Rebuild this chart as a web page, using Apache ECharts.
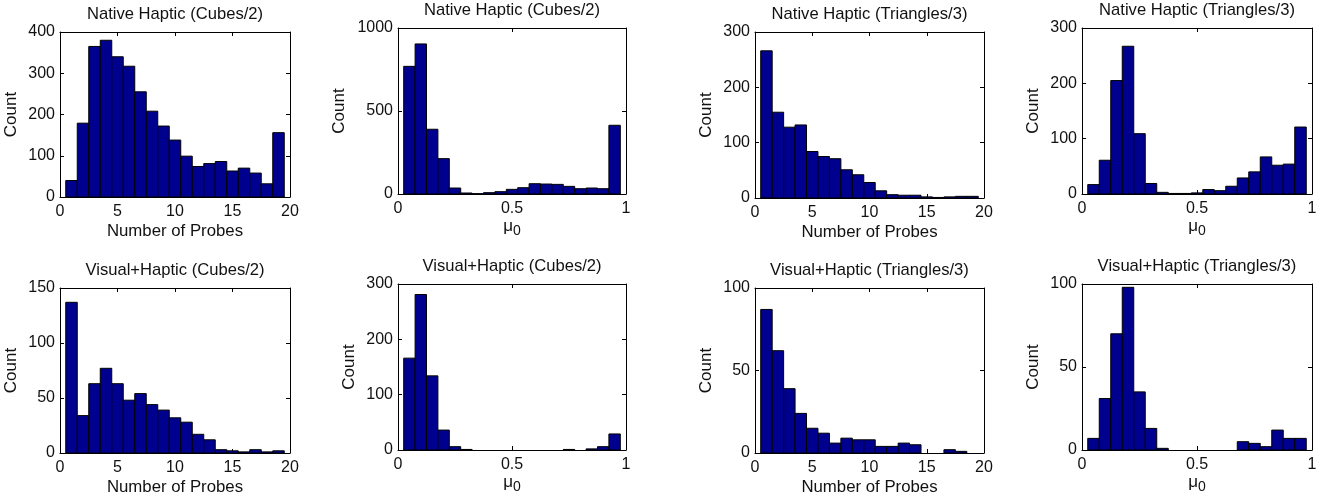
<!DOCTYPE html>
<html><head><meta charset="utf-8">
<script src="https://cdn.jsdelivr.net/npm/echarts@6/dist/echarts.min.js"></script>
<style>html,body{margin:0;padding:0;background:#fff}#c{width:1320px;height:499px}</style>
</head><body><div id="c"></div><script>
// ---- data ----
const probeBins = [1,2,3,4,5,6,7,8,9,10,11,12,13,14,15,16,17,18,19];
const muBins = [0.05,0.10,0.15,0.20,0.25,0.30,0.35,0.40,0.45,0.50,0.55,0.60,0.65,0.70,0.75,0.80,0.85,0.90,0.95];
const probeTicks = [0,5,10,15,20];
const muTicks = [0,0.5,1];

const nhCubesProbes = [40,179,365,380,340,317,255,208,172,138,99,74,81,86,63,70,58,32,156];
const nhCubesMu     = [769,904,390,213,36,6,2,8,14,28,38,62,60,58,46,32,36,32,414];
const nhTriProbes   = [266,155,128,132,84,75,71,51,42,28,13,6,5,5,2,1,2,3,3];
const nhTriMu       = [17,61,205,267,109,19,3,1,1,2,8,6,14,29,40,67,52,54,121];
const vhCubesProbes = [137,34,63,77,63,48,54,44,39,32,28,17,12,3,2,1,3,1,2];
const vhCubesMu     = [166,281,134,36,6,1,0,0,0,0,0,0,0,0,1,0,2,6,29];
const vhTriProbes   = [87,62,39,24,15,12,6,9,8,8,4,4,6,5,0,0,2,1,0];
const vhTriMu       = [7,31,70,98,35,13,1,0,0,0,0,0,0,5,4,2,12,7,7];

const titles = [
  'Native Haptic (Cubes/2)','Native Haptic (Cubes/2)','Native Haptic (Triangles/3)','Native Haptic (Triangles/3)',
  'Visual+Haptic (Cubes/2)','Visual+Haptic (Cubes/2)','Visual+Haptic (Triangles/3)','Visual+Haptic (Triangles/3)'
];
const yMaxes = [400,1000,300,300,150,300,100,100];
const yIntervals = [100,500,100,100,50,100,50,50];

// ---- panels ----
const panels = [
  {vals: nhCubesProbes, kind:'p', grid:{left:60,  top:32, width:230, height:165}},
  {vals: nhCubesMu,     kind:'m', grid:{left:398, top:28, width:228, height:166}},
  {vals: nhTriProbes,   kind:'p', grid:{left:755, top:32, width:229, height:166}},
  {vals: nhTriMu,       kind:'m', grid:{left:1082,top:28, width:230, height:166}},
  {vals: vhCubesProbes, kind:'p', grid:{left:60,  top:288,width:230, height:165}},
  {vals: vhCubesMu,     kind:'m', grid:{left:398, top:284,width:228, height:166}},
  {vals: vhTriProbes,   kind:'p', grid:{left:755, top:288,width:229, height:165}},
  {vals: vhTriMu,       kind:'m', grid:{left:1082,top:284,width:230, height:166}}
];

const FONT = 'Liberation Sans, Arial, Helvetica, sans-serif';
const TXT = '#111';
const BAR = '#00008F';

function hist(binW){
  return function(params, api){
    const x = api.value(0), y = api.value(1);
    if (!y) return null;
    const a = api.coord([x - binW/2, y]);
    const b = api.coord([x + binW/2, 0]);
    return {type:'rect', shape:{x:a[0], y:a[1], width:b[0]-a[0], height:b[1]-a[1]},
            style:{fill:BAR, stroke:'#000', lineWidth:1}};
  };
}

const grid=[], xAxis=[], yAxis=[], series=[];
panels.forEach((p,i)=>{
  grid.push(Object.assign({containLabel:false}, p.grid));
  const isP = p.kind==='p';
  const xMin = 0, xMax = isP?20:1, xInt = isP?5:0.5;
  const bins = isP?probeBins:muBins;
  const binW = isP?1:0.05;
  const axisLine = {show:true, onZero:false, lineStyle:{color:'#000', width:1}};
  const tick = {show:true, inside:true, length:4, lineStyle:{color:'#000'}};
  xAxis.push({
    type:'value', gridIndex:i, position:'bottom', min:xMin, max:xMax, interval:xInt,
    axisLine, axisTick:tick, splitLine:{show:false},
    axisLabel:{color:TXT, fontSize:16, fontFamily:FONT, margin:7,
      formatter: v => String(v)},
    name: isP ? 'Number of Probes' : 'μ{sub|0}',
    nameLocation:'middle', nameGap: isP?26:20,
    nameTextStyle: isP ? {color:TXT, fontSize:16.8, fontFamily:FONT}
      : {color:TXT, fontSize:17, fontFamily:FONT, rich:{sub:{fontSize:14, fontFamily:FONT, color:TXT, verticalAlign:'bottom', padding:[10,0,0,0]}}}
  });
  xAxis.push({
    type:'value', gridIndex:i, position:'top', min:xMin, max:xMax, interval:xInt,
    axisLine, axisTick:tick, splitLine:{show:false}, axisLabel:{show:false},
    name: titles[i], nameLocation:'middle', nameGap:9,
    nameTextStyle:{color:TXT, fontSize:16.6, fontFamily:FONT}
  });
  yAxis.push({
    type:'value', gridIndex:i, position:'left', min:0, max:yMaxes[i], interval:yIntervals[i],
    axisLine, axisTick:tick, splitLine:{show:false},
    axisLabel:{color:TXT, fontSize:16, fontFamily:FONT, margin:5, formatter: v => String(v)},
    name:'Count', nameLocation:'middle', nameGap: (i===1)?50:40, nameRotate:90,
    nameTextStyle:{color:TXT, fontSize:17, fontFamily:FONT}
  });
  yAxis.push({
    type:'value', gridIndex:i, position:'right', min:0, max:yMaxes[i], interval:yIntervals[i],
    axisLine, axisTick:tick, splitLine:{show:false}, axisLabel:{show:false}
  });
  series.push({
    type:'custom', xAxisIndex:2*i, yAxisIndex:2*i, renderItem:hist(binW),
    data: bins.map((b,k)=>[b, p.vals[k]]), silent:true, clip:false
  });
});

const chart = echarts.init(document.getElementById('c'), null, {renderer:'canvas'});
chart.setOption({animation:false, backgroundColor:'#fff', grid, xAxis, yAxis, series});
</script></body></html>
